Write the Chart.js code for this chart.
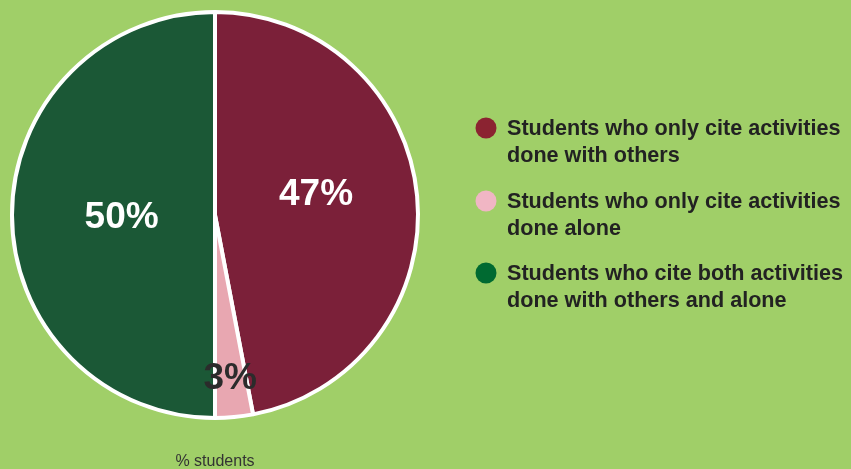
<!DOCTYPE html>
<html>
<head>
<meta charset="utf-8">
<script src="https://cdn.jsdelivr.net/npm/chart.js@4.4.1/dist/chart.umd.min.js"></script>
<style>
  html, body { margin: 0; padding: 0; background: #A0CF68; }
  #wrap { position: relative; width: 851px; height: 469px; }
  canvas { display: block; }
</style>
</head>
<body>
<div id="wrap"><canvas id="c" width="851" height="469"></canvas></div>
<script>
// Share of students by kind of activity cited
const categories = [
  ['Students who only cite activities', 'done with others'],
  ['Students who only cite activities', 'done alone'],
  ['Students who cite both activities', 'done with others and alone']
];
const shares = [47, 3, 50];
const valueLabels = ['47%', '3%', '50%'];
const caption = '% students';

const sliceColors = ['#7B2039', '#E8A7B1', '#1B5836'];
const legendDotColors = ['#8B2331', '#F0B6C4', '#006A31'];
const valueLabelColors = ['#FFFFFF', '#2B2B2B', '#FFFFFF'];
const labelRadiusFactors = [0.5, 0.8, 0.46];
const labelNudgeY = [-11, 2, 3];

// Percentage labels placed along each slice's mid angle
const sliceLabels = {
  id: 'sliceLabels',
  afterDatasetsDraw(chart) {
    const ctx = chart.ctx;
    const meta = chart.getDatasetMeta(0);
    ctx.save();
    ctx.font = 'bold 37px "Liberation Sans", Arial, sans-serif';
    ctx.textAlign = 'center';
    ctx.textBaseline = 'middle';
    meta.data.forEach((arc, i) => {
      const p = arc.getProps(['x', 'y', 'startAngle', 'endAngle', 'outerRadius'], true);
      const mid = (p.startAngle + p.endAngle) / 2;
      const r = p.outerRadius * labelRadiusFactors[i];
      ctx.fillStyle = valueLabelColors[i];
      ctx.fillText(valueLabels[i], p.x + Math.cos(mid) * r, p.y + Math.sin(mid) * r + labelNudgeY[i]);
    });
    // caption under the pie
    const a = meta.data[0];
    ctx.font = '16px "Liberation Sans", Arial, sans-serif';
    ctx.fillStyle = '#333333';
    ctx.fillText(caption, a.x, 462);
    ctx.restore();
  }
};

// Legend on the right with round markers and two-line entries
const sideLegend = {
  id: 'sideLegend',
  afterDraw(chart) {
    const ctx = chart.ctx;
    const rowTops = [128, 201, 273];
    ctx.save();
    ctx.font = 'bold 21.6px "Liberation Sans", Arial, sans-serif';
    ctx.textAlign = 'left';
    ctx.textBaseline = 'middle';
    categories.forEach((lines, i) => {
      const y = rowTops[i];
      ctx.beginPath();
      ctx.arc(486, y, 10.5, 0, Math.PI * 2);
      ctx.fillStyle = legendDotColors[i];
      ctx.fill();
      ctx.fillStyle = '#222222';
      lines.forEach((t, k) => ctx.fillText(t, 507, y + 1 + k * 27));
    });
    ctx.restore();
  }
};

new Chart(document.getElementById('c'), {
  type: 'pie',
  data: {
    labels: categories.map(l => l.join(' ')),
    datasets: [{
      data: shares,
      backgroundColor: sliceColors,
      borderColor: '#FFFFFF',
      borderWidth: 4
    }]
  },
  options: {
    responsive: false,
    animation: false,
    layout: { padding: { left: 10, right: 431, top: 10, bottom: 49 } },
    plugins: {
      legend: { display: false },
      tooltip: { enabled: false }
    }
  },
  plugins: [sliceLabels, sideLegend]
});
</script>
</body>
</html>
